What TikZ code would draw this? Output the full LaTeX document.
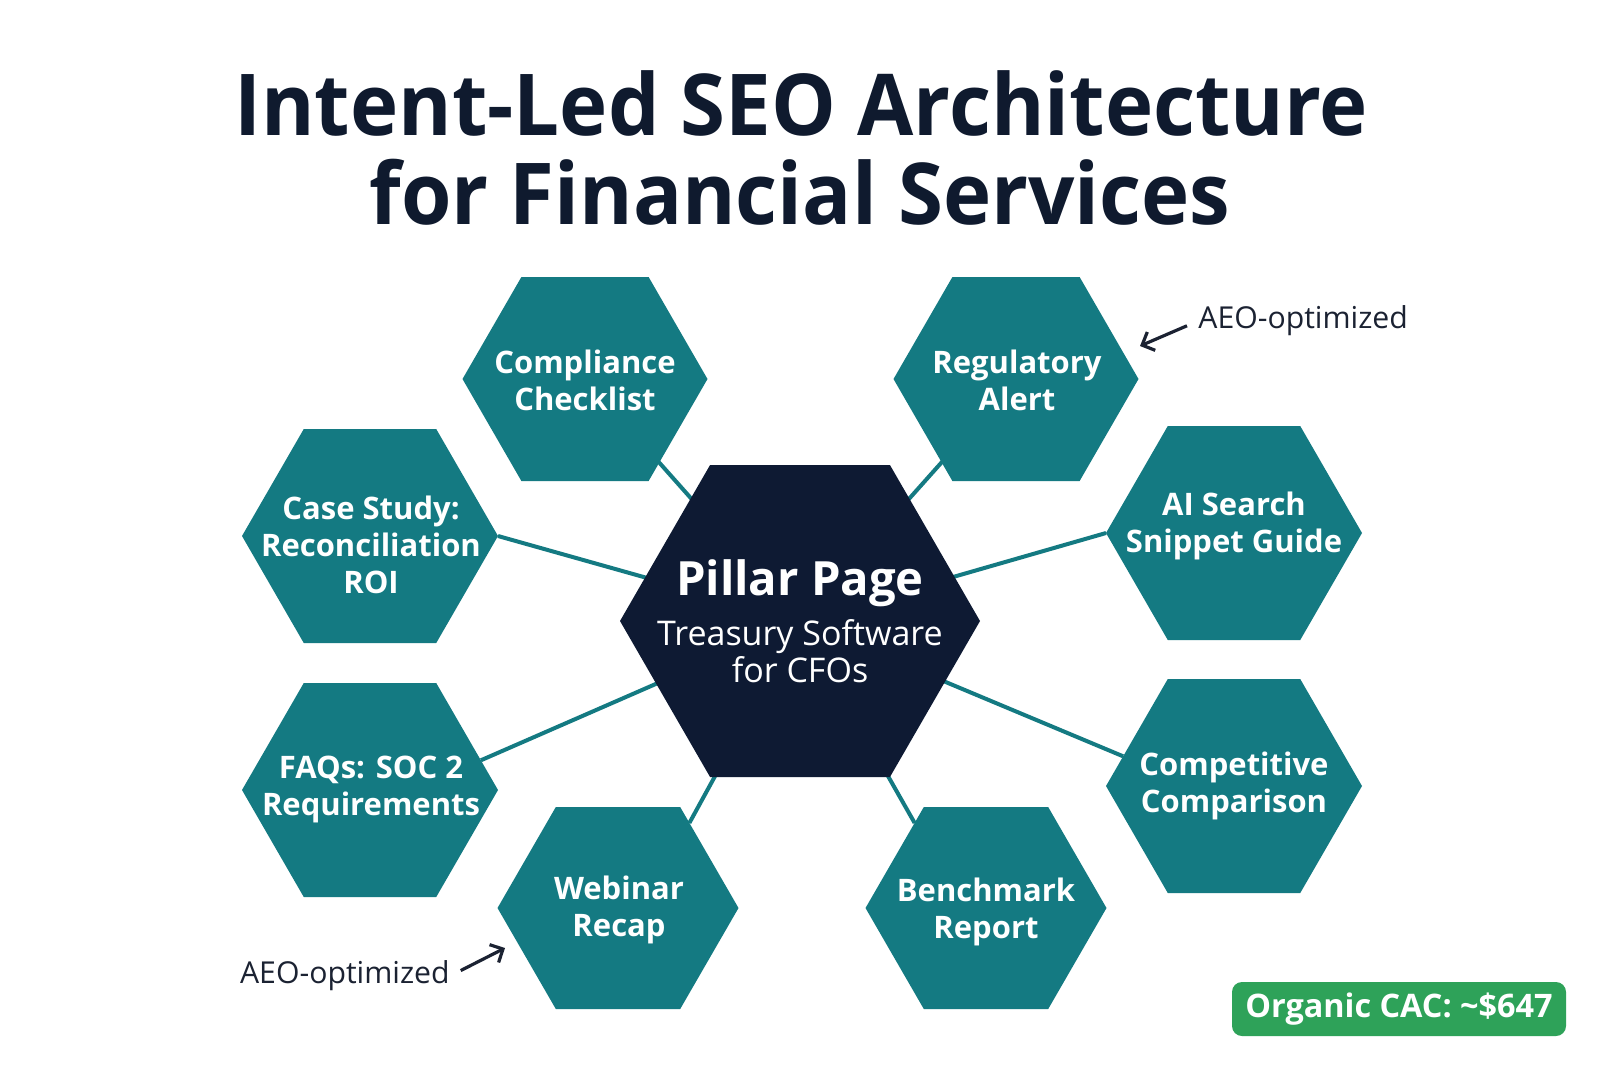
\documentclass[tikz,border=0pt]{standalone}
\usepackage{fontspec}
\setmainfont{Open Sans}
\newfontfamily\titlefont[FakeStretch=0.955]{Open Sans}
\usetikzlibrary{shapes.symbols,backgrounds,arrows.meta}
\definecolor{tealhex}{HTML}{147A82}
\definecolor{navy}{HTML}{0E1A33}
\definecolor{titlecol}{HTML}{0F1A2E}
\definecolor{badgegreen}{HTML}{2EA259}
\definecolor{annot}{HTML}{1B2232}
\begin{document}
\begin{tikzpicture}[x=0.5pt,y=-0.5pt,
  hexbox/.style={signal, signal to=east and west, signal pointer angle=120, fill=tealhex, inner sep=0pt, outer sep=0pt},
  hexlabel/.style={text=white, font=\fontsize{15.5}{18.5}\selectfont\bfseries, align=center, inner sep=0pt},
  link/.style={draw=tealhex, line width=2pt},
  titlestyle/.style={text=titlecol, font=\titlefont\fontsize{42.7}{50}\selectfont\bfseries, inner sep=0pt},
  annotext/.style={text=annot, font=\fontsize{15.1}{18}\selectfont, inner sep=0pt},
  annoarrow/.style={draw=annot, line width=1.6pt, shorten <=6pt, -{Straight Barb[length=5pt,width=10pt]}},
  badge/.style={fill=badgegreen, text=white, rounded corners=5pt, minimum width=167pt, minimum height=27pt, font=\fontsize{16.2}{20}\selectfont\bfseries}]
\useasboundingbox (0,0) rectangle (1600,1073);

\node[titlestyle, anchor=base] (title1) at (801,135) {Intent-Led SEO Architecture};
\node[titlestyle, anchor=base] (title2) at (800,224) {for Financial Services};

\node[hexbox, fill=navy, minimum width=180pt, minimum height=156pt] (pillar) at (800,621) {};
\node[hexbox, minimum width=122.5pt, minimum height=102pt] (comp) at (585,379) {};
\node[hexbox, minimum width=122.5pt, minimum height=102pt] (reg) at (1016,379) {};
\node[hexbox, minimum width=128pt, minimum height=107pt] (case) at (370,536) {};
\node[hexbox, minimum width=128pt, minimum height=107pt] (ai) at (1234,533) {};
\node[hexbox, minimum width=128pt, minimum height=107pt] (faq) at (370,790) {};
\node[hexbox, minimum width=128pt, minimum height=107pt] (compet) at (1234,786) {};
\node[hexbox, minimum width=120.5pt, minimum height=101pt] (web) at (618,908) {};
\node[hexbox, minimum width=120.5pt, minimum height=101pt] (bench) at (986,908) {};

\node[hexlabel] (compt) at (585,380) {Compliance\\Checklist};
\node[hexlabel] (regt) at (1017,380) {Regulatory\\Alert};
\node[hexlabel] (caset) at (371,545) {Case Study:\\Reconciliation\\ROI};
\node[hexlabel] (ait) at (1234,526) {AI Search\\Snippet Guide};
\node[hexlabel] (faqt) at (371,789) {FAQs: SOC 2\\Requirements};
\node[hexlabel] (compett) at (1234,786) {Competitive\\Comparison};
\node[hexlabel] (webt) at (619,910) {Webinar\\Recap};
\node[hexlabel] (bencht) at (986,912) {Benchmark\\Report};

\node[text=white, font=\fontsize{23.6}{28}\selectfont\bfseries, inner sep=0pt, anchor=base] (pt1) at (800,595) {Pillar Page};
\node[text=white, font=\fontsize{17}{20}\selectfont, inner sep=0pt, anchor=base] (pt2) at (800,645) {Treasury Software};
\node[text=white, font=\fontsize{17}{20}\selectfont, inner sep=0pt, anchor=base] (pt3) at (800,682) {for CFOs};

\node[annotext, anchor=west] (ann1) at (1198,321) {AEO-optimized};
\coordinate (ann1tip) at (1140,346);
\draw[annoarrow] (ann1.west) -- (ann1tip);
\node[annotext, anchor=east] (ann2) at (450,976) {AEO-optimized};
\coordinate (ann2tip) at (505,948);
\draw[annoarrow] (ann2.east) -- (ann2tip);

\node[badge] (cac) at (1399,1009) {Organic CAC: \textasciitilde\$647};

\begin{pgfonlayer}{background}
\fill[white] (0,0) rectangle (1600,1073);
\draw[link] (pillar.center) -- (comp.center);
\draw[link] (pillar.center) -- (reg.center);
\draw[link] (pillar.center) -- (case.east);
\draw[link] (pillar.center) -- (ai.west);
\draw[link] (pillar.center) -- (faq.15);
\draw[link] (pillar.center) -- (compet.165);
\draw[link] (pillar.center) -- (web.50);
\draw[link] (pillar.center) -- (bench.130);
\end{pgfonlayer}
\end{tikzpicture}
\end{document}
